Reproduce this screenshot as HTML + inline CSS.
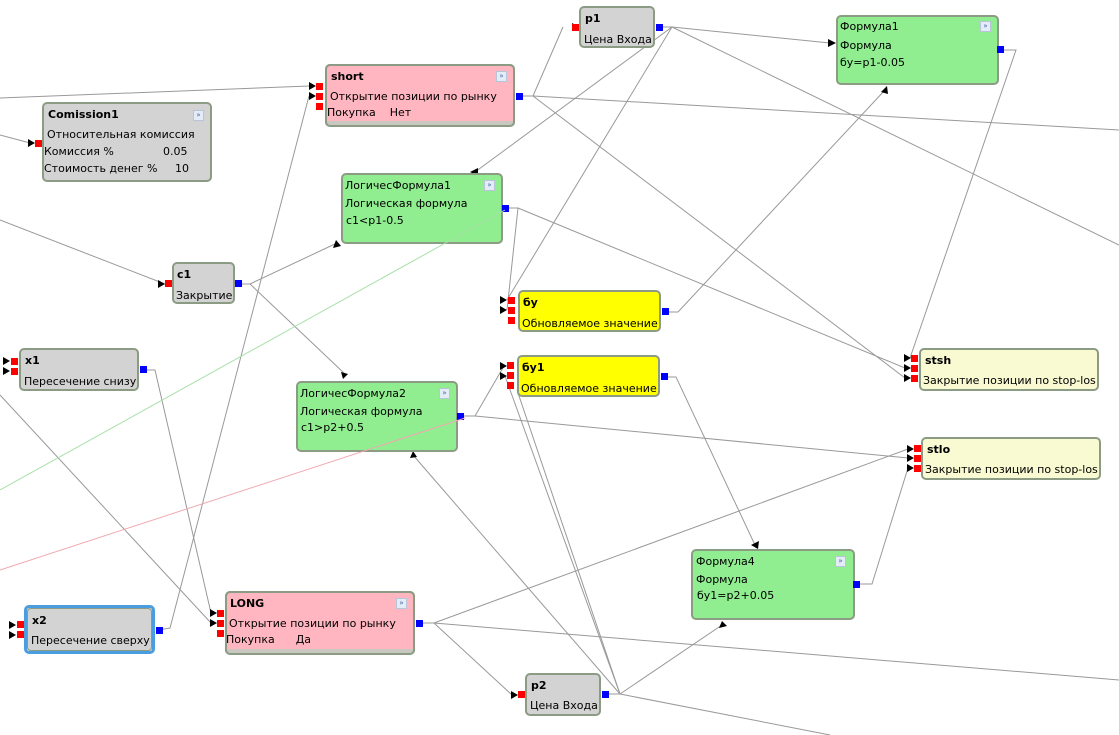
<!DOCTYPE html>
<html><head><meta charset="utf-8"><style>
body{margin:0;width:1119px;height:735px;overflow:hidden;background:#fff;position:relative;font-family:"DejaVu Sans","Liberation Sans",sans-serif;font-size:11px;color:#000}
.n{position:absolute;box-sizing:border-box;border:2px solid #8c9c84;border-radius:5px;overflow:hidden}
.g{background:#d3d3d3}.p{background:#ffb6c1}.gr{background:#90ee90}.y{background:#ffff00}.c{background:#fafad2}
.t{position:absolute;white-space:nowrap;line-height:13px}
.b{font-weight:bold}
.r,.u{position:absolute;width:7px;height:7px}
.r{background:#f00}.u{background:#00f}
.ic{position:absolute;width:9px;height:9px;border:1px solid #b8c4d8;background:#e4ecf8;font-size:7px;line-height:8px;text-align:center;color:#4060a0}
svg{position:absolute;left:0;top:0}
</style></head><body>
<svg width="1119" height="735">
<g stroke="#999" stroke-width="1" fill="none">
<path d="M0 98L309 86"/>
<path d="M0 135L30 143"/>
<path d="M0 220L165 284"/>
<path d="M240 284L250 284L337 243"/>
<path d="M250 284L345 374"/>
<path d="M158 630L170 628L309 96"/>
<path d="M144 370L155 370L211 613"/>
<path d="M0 395L211 623"/>
<path d="M522 96L533 96L563 27"/>
<path d="M533 96L1119 130"/>
<path d="M533 96L905 378"/>
<path d="M662 27L672 27L830 43"/>
<path d="M672 27L475 172"/>
<path d="M672 27L507 300"/>
<path d="M672 27L1119 245"/>
<path d="M508 208L518 208L507 310"/>
<path d="M518 208L905 368"/>
<path d="M668 312L678 312L885 90"/>
<path d="M1002 50L1016 50L910 358"/>
<path d="M664 377L676 377L755 545"/>
<path d="M463 416L475 416L504 366"/>
<path d="M475 416L908 458"/>
<path d="M422 623L434 623L908 449"/>
<path d="M434 623L512 695"/>
<path d="M434 623L1119 680"/>
<path d="M606 694L620 694L722 625"/>
<path d="M620 694L413 455"/>
<path d="M620 694L505 376"/>
<path d="M620 694L517 390"/>
<path d="M620 694L830 735"/>
<path d="M860 584L872 584L908 468"/>
</g>
<g fill="#000">
<path d="M309 82L316 86L309 90Z"/><path d="M309 92L316 96L309 100Z"/>
<path d="M28 139L35 143L28 147Z"/>
<path d="M158 280L165 284L158 288Z"/>
<path d="M572 23L579 27L572 31Z"/>
<path d="M828 39L836 43L828 47Z"/>
<path d="M470 172L478 168L478 176Z"/>
<path d="M333 248L336 240L341 246Z"/>
<path d="M500 296L507 300L500 304Z"/><path d="M500 306L507 310L500 314Z"/>
<path d="M881 92L887 86L888 94Z"/>
<path d="M904 354L911 358L904 362Z"/><path d="M904 364L911 368L904 372Z"/><path d="M904 374L911 378L904 382Z"/>
<path d="M3 357L10 361L3 365Z"/><path d="M3 367L10 371L3 375Z"/>
<path d="M500 362L507 366L500 370Z"/><path d="M500 372L507 376L500 380Z"/>
<path d="M341 372L348 374L343 379Z"/>
<path d="M907 445L914 449L907 453Z"/><path d="M907 454L914 458L907 462Z"/><path d="M907 464L914 468L907 472Z"/>
<path d="M751 545L759 541L758 549Z"/>
<path d="M410 458L413 451L417 457Z"/>
<path d="M719 628L722 621L727 626Z"/>
<path d="M210 609L217 613L210 617Z"/><path d="M210 619L217 623L210 627Z"/>
<path d="M9 621L16 625L9 629Z"/><path d="M9 631L16 635L9 639Z"/>
<path d="M511 691L518 695L511 699Z"/>
</g>
</svg>

<!-- Comission1 -->
<div class="n g" style="left:42px;top:102px;width:170px;height:80px"></div>
<div class="t b" style="left:48px;top:108px">Comission1</div>
<div class="ic" style="left:193px;top:110px">»</div>
<div class="t" style="left:47px;top:128px">Относительная комиссия</div>
<div class="t" style="left:44px;top:145px">Комиссия %</div><div class="t" style="left:163px;top:145px">0.05</div>
<div class="t" style="left:44px;top:162px">Стоимость денег %</div><div class="t" style="left:175px;top:162px">10</div>
<div class="r" style="left:35px;top:140px"></div>

<!-- short -->
<div class="n p" style="left:325px;top:64px;width:190px;height:63px;border-bottom:6px solid #c8c8c0"></div>
<div style="position:absolute;left:325px;top:64px;width:190px;height:63px;box-sizing:border-box;border:2px solid #8c9c84;border-radius:5px"></div>
<div class="t b" style="left:331px;top:70px">short</div>
<div class="ic" style="left:496px;top:71px">»</div>
<div class="t" style="left:330px;top:90px">Открытие позиции по рынку</div>
<div class="t" style="left:327px;top:106px">Покупка&nbsp;&nbsp;&nbsp; Нет</div>
<div class="r" style="left:316px;top:83px"></div><div class="r" style="left:316px;top:93px"></div><div class="r" style="left:316px;top:103px"></div>
<div class="u" style="left:516px;top:93px"></div>

<!-- p1 -->
<div class="n g" style="left:579px;top:6px;width:76px;height:42px"></div>
<div class="t b" style="left:585px;top:12px">p1</div>
<div class="t" style="left:584px;top:33px">Цена Входа</div>
<div class="r" style="left:572px;top:24px"></div>
<div class="u" style="left:656px;top:24px"></div>

<!-- Формула1 -->
<div class="n gr" style="left:836px;top:15px;width:163px;height:70px"></div>
<div class="t" style="left:840px;top:20px">Формула1</div>
<div class="ic" style="left:980px;top:21px">»</div>
<div class="t" style="left:840px;top:39px">Формула</div>
<div class="t" style="left:840px;top:56px">бу=p1-0.05</div>
<div class="u" style="left:997px;top:46px"></div>

<!-- LF1 -->
<div class="n gr" style="left:341px;top:173px;width:162px;height:71px"></div>
<div class="t" style="left:345px;top:179px">ЛогичесФормула1</div>
<div class="ic" style="left:484px;top:180px">»</div>
<div class="t" style="left:345px;top:197px">Логическая формула</div>
<div class="t" style="left:346px;top:214px">c1&lt;p1-0.5</div>
<div class="u" style="left:502px;top:205px"></div>

<!-- c1 -->
<div class="n g" style="left:172px;top:262px;width:63px;height:42px"></div>
<div class="t b" style="left:177px;top:268px">c1</div>
<div class="t" style="left:176px;top:289px">Закрытие</div>
<div class="r" style="left:165px;top:280px"></div>
<div class="u" style="left:235px;top:280px"></div>

<!-- бу -->
<div class="n y" style="left:518px;top:290px;width:143px;height:42px"></div>
<div class="t b" style="left:523px;top:296px">бу</div>
<div class="t" style="left:522px;top:317px">Обновляемое значение</div>
<div class="r" style="left:508px;top:297px"></div><div class="r" style="left:508px;top:307px"></div><div class="r" style="left:508px;top:317px"></div>
<div class="u" style="left:662px;top:308px"></div>

<!-- бу1 -->
<div class="n y" style="left:517px;top:355px;width:143px;height:42px"></div>
<div class="t b" style="left:522px;top:361px">бу1</div>
<div class="t" style="left:521px;top:382px">Обновляемое значение</div>
<div class="r" style="left:507px;top:362px"></div><div class="r" style="left:507px;top:372px"></div><div class="r" style="left:507px;top:382px"></div>
<div class="u" style="left:661px;top:373px"></div>

<!-- stsh -->
<div class="n c" style="left:919px;top:348px;width:180px;height:43px"></div>
<div class="t b" style="left:925px;top:354px">stsh</div>
<div class="t" style="left:923px;top:374px">Закрытие позиции по stop-los</div>
<div class="r" style="left:911px;top:355px"></div><div class="r" style="left:911px;top:365px"></div><div class="r" style="left:911px;top:375px"></div>

<!-- stlo -->
<div class="n c" style="left:921px;top:437px;width:180px;height:43px"></div>
<div class="t b" style="left:927px;top:443px">stlo</div>
<div class="t" style="left:925px;top:463px">Закрытие позиции по stop-los</div>
<div class="r" style="left:914px;top:445px"></div><div class="r" style="left:914px;top:455px"></div><div class="r" style="left:914px;top:465px"></div>

<!-- x1 -->
<div class="n g" style="left:19px;top:348px;width:120px;height:43px"></div>
<div class="t b" style="left:25px;top:354px">x1</div>
<div class="t" style="left:24px;top:375px">Пересечение снизу</div>
<div class="r" style="left:11px;top:358px"></div><div class="r" style="left:11px;top:368px"></div>
<div class="u" style="left:140px;top:366px"></div>

<!-- LF2 -->
<div class="n gr" style="left:296px;top:381px;width:162px;height:71px"></div>
<div class="t" style="left:300px;top:387px">ЛогичесФормула2</div>
<div class="ic" style="left:439px;top:388px">»</div>
<div class="t" style="left:300px;top:405px">Логическая формула</div>
<div class="t" style="left:301px;top:421px">c1&gt;p2+0.5</div>
<div class="u" style="left:457px;top:413px"></div>

<!-- Формула4 -->
<div class="n gr" style="left:691px;top:549px;width:164px;height:71px"></div>
<div class="t" style="left:696px;top:555px">Формула4</div>
<div class="ic" style="left:835px;top:556px">»</div>
<div class="t" style="left:696px;top:573px">Формула</div>
<div class="t" style="left:697px;top:589px">бу1=p2+0.05</div>
<div class="u" style="left:853px;top:581px"></div>

<!-- x2 -->
<div class="n g" style="left:24px;top:605px;width:131px;height:49px;border:3px solid #4a9ee0"></div>
<div style="position:absolute;left:27px;top:608px;width:125px;height:43px;box-sizing:border-box;border:1px solid #8c9c84;border-radius:4px"></div>
<div class="t b" style="left:32px;top:614px">x2</div>
<div class="t" style="left:31px;top:634px">Пересечение сверху</div>
<div class="r" style="left:17px;top:621px"></div><div class="r" style="left:17px;top:631px"></div>
<div class="u" style="left:156px;top:627px"></div>

<!-- LONG -->
<div class="n p" style="left:225px;top:591px;width:190px;height:64px;border-bottom:6px solid #c8c8c0"></div>
<div style="position:absolute;left:225px;top:591px;width:190px;height:64px;box-sizing:border-box;border:2px solid #8c9c84;border-radius:5px"></div>
<div class="t b" style="left:230px;top:597px">LONG</div>
<div class="ic" style="left:396px;top:598px">»</div>
<div class="t" style="left:229px;top:617px">Открытие позиции по рынку</div>
<div class="t" style="left:226px;top:633px">Покупка&nbsp;&nbsp;&nbsp;&nbsp;&nbsp; Да</div>
<div class="r" style="left:217px;top:610px"></div><div class="r" style="left:217px;top:620px"></div><div class="r" style="left:217px;top:630px"></div>
<div class="u" style="left:416px;top:620px"></div>

<!-- p2 -->
<div class="n g" style="left:525px;top:673px;width:76px;height:43px"></div>
<div class="t b" style="left:531px;top:679px">p2</div>
<div class="t" style="left:530px;top:699px">Цена Входа</div>
<div class="r" style="left:518px;top:691px"></div>
<div class="u" style="left:602px;top:691px"></div>

<svg width="1119" height="735" style="pointer-events:none">
<path d="M0 490L505 210" stroke="#a8e0a8" fill="none"/>
<path d="M0 570L465 418" stroke="#f0a8b0" fill="none"/>
</svg>
</body></html>
